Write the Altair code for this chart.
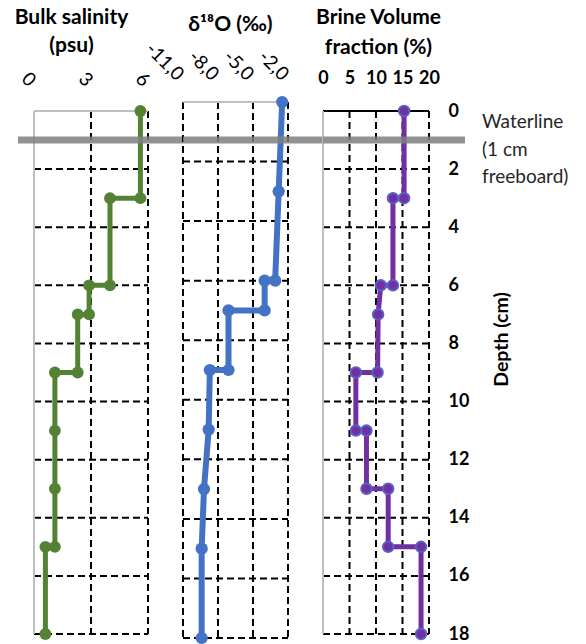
import altair as alt
import pandas as pd

FONT = "Lato"

# ---- data ----
depth_ticks = [0, 2, 4, 6, 8, 10, 12, 14, 16, 18]
grid_depths = [2, 4, 6, 8, 10, 12, 14, 16, 18]
waterline_depth = [1]
waterline_text = ["Waterline\n(1 cm\nfreeboard)"]

sal_depth = [0, 3, 3, 6, 6, 7, 7, 9, 9, 11, 13, 15, 15, 18]
sal_value = [5.6, 5.6, 4.0, 4.0, 2.9, 2.9, 2.3, 2.3, 1.1, 1.1, 1.1, 1.1, 0.6, 0.6]
sal_ticks = [0, 3, 6]

d18o_depth = [0, 3, 6, 6, 7, 7, 9, 9, 11, 13, 15, 18]
d18o_value = [-2.5, -2.8, -3.1, -4.0, -4.0, -7.1, -7.1, -8.7, -8.8, -9.2, -9.4, -9.4]
d18o_ticks = [-11, -8, -5, -2]

brine_depth = [0, 3, 3, 6, 6, 7, 9, 9, 11, 11, 13, 13, 15, 15, 18]
brine_value = [15.3, 15.3, 13.2, 13.2, 10.9, 10.4, 10.3, 6.2, 6.2, 8.2, 8.2, 12.3, 12.3, 18.5, 18.5]
brine_ticks = [0, 5, 10, 15, 20]

H = 536


def panel(depths, values, ticks, color, width, yrange, xaxis, yaxis,
          top_color, left_dashed, wl_x0, wl_x2, wl_dy, line_w, pt_size,
          pt_stroke=None, extra=None):
    lo, hi = ticks[0], ticks[-1]
    xs = alt.Scale(domain=[lo, hi], nice=False, zero=False)
    ys = alt.Scale(domain=[0, 18], range=yrange, nice=False, zero=False)

    data = pd.DataFrame({"d": depths, "v": values, "i": list(range(len(depths)))})
    hgrid = pd.DataFrame({"d": grid_depths, "x0": [lo] * len(grid_depths), "x1": [hi] * len(grid_depths)})
    vt = ticks if left_dashed else ticks[1:]
    vgrid = pd.DataFrame({"x0": vt, "d0": [0] * len(vt), "d1": [18] * len(vt)})
    topf = pd.DataFrame({"d": [0], "x0": [lo], "x1": [hi]})
    leftf = pd.DataFrame({"x0": [lo], "d0": [0], "d1": [18]})
    wl = pd.DataFrame({"d": waterline_depth})

    X = lambda f: alt.X(f, scale=xs, axis=xaxis)
    Y = lambda f: alt.Y(f, scale=ys, axis=yaxis)

    dash = dict(color="black", strokeWidth=2, strokeDash=[7, 4])
    layers = [
        alt.Chart(hgrid).mark_rule(**dash).encode(x=X("x0:Q"), x2="x1:Q", y=Y("d:Q")),
        alt.Chart(vgrid).mark_rule(**dash).encode(x=X("x0:Q"), y=Y("d0:Q"), y2="d1:Q"),
        alt.Chart(topf).mark_rule(color=top_color, strokeWidth=2).encode(x=X("x0:Q"), x2="x1:Q", y=Y("d:Q")),
    ]
    if not left_dashed:
        layers.append(alt.Chart(leftf).mark_rule(color="#BFBFBF", strokeWidth=2)
                      .encode(x=X("x0:Q"), y=Y("d0:Q"), y2="d1:Q"))
    layers.append(alt.Chart(data).mark_line(color=color, strokeWidth=line_w)
                  .encode(x=X("v:Q"), y=Y("d:Q"), order="i:Q"))
    if pt_stroke:
        layers.append(alt.Chart(data).mark_point(filled=True, fill=color, stroke=pt_stroke,
                                                 strokeWidth=2, opacity=1, size=pt_size)
                      .encode(x=X("v:Q"), y=Y("d:Q")))
    else:
        layers.append(alt.Chart(data).mark_circle(color=color, opacity=1, size=pt_size)
                      .encode(x=X("v:Q"), y=Y("d:Q")))
    layers.append(alt.Chart(wl).mark_rule(color="#7F7F7F", strokeWidth=7, opacity=0.85, yOffset=wl_dy)
                  .encode(x=alt.value(wl_x0), x2=alt.value(wl_x2), y=Y("d:Q")))
    if extra is not None:
        layers.append(extra(Y))
    return alt.layer(*layers).properties(width=width, height=H)


common_x = dict(orient="top", grid=False, domain=False, ticks=False, labelColor="black",
                labelFont=FONT, titleFont=FONT, titleColor="black", titleFontWeight="bold",
                titleAlign="center", titleBaseline="top", labelOverlap=False)

ax1 = alt.Axis(values=sal_ticks, labelAngle=45, labelAlign="right", labelBaseline="middle",
               labelFontSize=19, labelPadding=19, labelOffset=-2,
               title=["Bulk salinity", "(psu)"], titleFontSize=21, titleLineHeight=28,
               titleX=37, titleY=-96, **common_x)
ax2 = alt.Axis(values=d18o_ticks, labelAngle=45, labelAlign="right", labelBaseline="middle",
               labelFontSize=19, labelPadding=25, labelOffset=-3, labelExpr="datum.value + ',0'",
               title="δ¹⁸O (‰)", titleFontSize=21,
               titleX=47, titleY=-89, **common_x)
ax3 = alt.Axis(values=brine_ticks, labelAngle=0, labelAlign="center", labelBaseline="bottom",
               labelFontSize=18, labelFontWeight="bold", labelPadding=15,
               title=["Brine Volume", "fraction (%)"], titleFontSize=21, titleLineHeight=30,
               titleX=55, titleY=-96, **common_x)
ay3 = alt.Axis(orient="right", values=depth_ticks, grid=False, domain=False, ticks=False,
               labelFont=FONT, labelFontSize=18, labelFontWeight="bold", labelColor="black",
               labelAlign="left", labelPadding=19,
               title="Depth (cm)", titleFont=FONT, titleFontSize=19.5, titleFontWeight="bold",
               titleColor="black", titleAngle=270, titleX=72, titleY=237,
               titleAlign="center", titleBaseline="middle")


def wl_text(Y):
    df = pd.DataFrame({"d": waterline_depth, "t": waterline_text})
    return (alt.Chart(df)
            .mark_text(align="left", baseline="middle", dy=-18, lineBreak="\n", lineHeight=27.5,
                       fontSize=19, font=FONT, color="#262626")
            .encode(x=alt.value(106 + 53), y=Y("d:Q"), text="t:N"))


p1 = panel(sal_depth, sal_value, sal_ticks, "#548235", 114, [9, 532], ax1, None,
           "#BFBFBF", False, -16, 114 + 35, 0, 5, 140)
p2 = panel(d18o_depth, d18o_value, d18o_ticks, "#4472C4", 105, [0, 536], ax2, None,
           "#BFBFBF", True, 0, 105 + 35, 8.3, 6, 150)
p3 = panel(brine_depth, brine_value, brine_ticks, "#7030A0", 106, [9, 532], ax3, ay3,
           "black", False, 0, 106 + 36, 0, 5, 110, pt_stroke="#5A5FC8", extra=wl_text)

chart = (alt.hconcat(p1, p2, p3, spacing=35, bounds="flush")
         .properties(padding={"left": 14, "top": 6, "right": 0, "bottom": 0})
         .configure(font=FONT)
         .configure_view(strokeWidth=0))

chart.save("out.html", embed_options={"renderer": "svg", "actions": False})
